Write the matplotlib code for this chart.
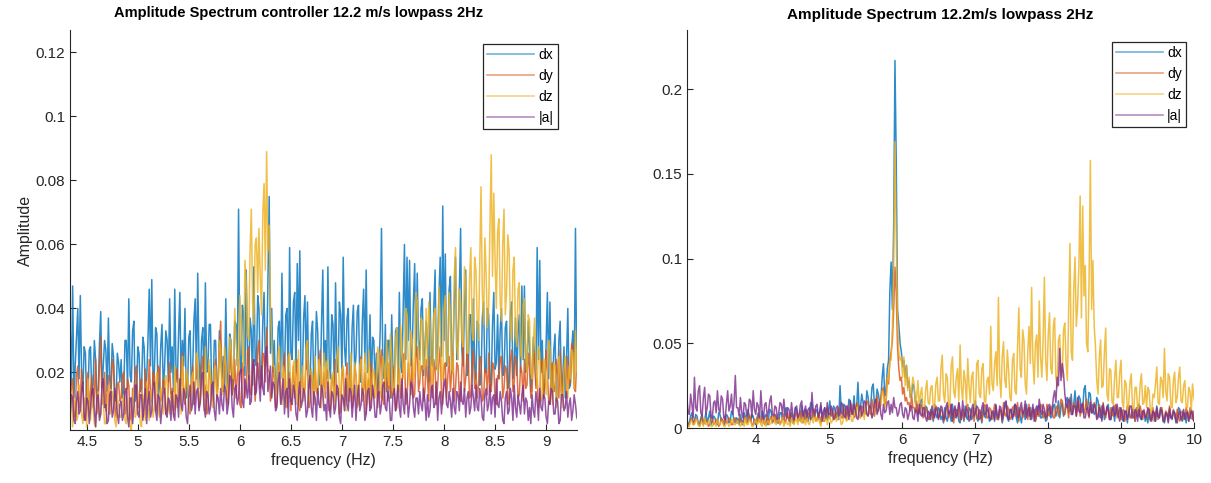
import numpy as np
import matplotlib.pyplot as plt

# amplitudes in thousandths
# left panel: f = 4.335 + 0.0125*k
left_dx = [35, 16, 47, 12, 22, 31, 40, 18, 44, 20, 14, 28, 26, 10, 12, 27, 28, 13, 16, 30,
           24, 12, 13, 29, 39, 15, 22, 30, 27, 14, 37, 18, 15, 29, 25, 12, 11, 26, 23, 17,
           24, 12, 14, 30, 30, 15, 43, 19, 17, 33, 36, 11, 12, 28, 26, 14, 15, 31, 28, 13,
           18, 30, 46, 22, 49, 16, 20, 34, 32, 12, 16, 28, 35, 15, 21, 33, 30, 17, 43, 20,
           28, 14, 46, 20, 17, 32, 45, 16, 30, 22, 40, 12, 14, 31, 33, 15, 20, 36, 43, 18,
           51, 24, 15, 30, 34, 13, 48, 20, 22, 35, 35, 12, 13, 30, 30, 14, 16, 33, 28, 18,
           25, 15, 43, 20, 14, 32, 30, 13, 18, 36, 35, 22, 71, 25, 20, 41, 38, 19, 52, 27,
           18, 37, 33, 16, 53, 24, 22, 44, 40, 18, 18, 36, 45, 22, 24, 48, 75, 26, 40, 20,
           30, 14, 16, 34, 36, 18, 51, 22, 20, 38, 40, 15, 59, 26, 24, 42, 45, 20, 54, 30,
           58, 17, 18, 37, 44, 21, 42, 16, 15, 32, 36, 13, 22, 39, 33, 17, 16, 35, 52, 22,
           30, 18, 53, 24, 18, 38, 35, 16, 48, 22, 20, 42, 38, 19, 56, 28, 22, 37, 40, 14,
           16, 34, 41, 20, 25, 39, 41, 17, 17, 36, 46, 23, 52, 20, 22, 38, 14, 31, 30, 16,
           26, 13, 20, 33, 65, 22, 18, 35, 14, 30, 30, 12, 38, 20, 15, 33, 34, 17, 45, 22,
           20, 40, 60, 24, 56, 30, 55, 22, 26, 42, 54, 25, 51, 30, 24, 40, 43, 19, 28, 36,
           30, 17, 45, 24, 22, 40, 52, 21, 28, 44, 56, 25, 72, 30, 57, 22, 24, 46, 50, 20,
           26, 42, 56, 24, 30, 45, 65, 27, 22, 40, 52, 19, 20, 38, 38, 16, 43, 22, 18, 36,
           35, 16, 18, 37, 42, 20, 20, 40, 38, 17, 16, 35, 45, 21, 23, 38, 18, 33, 40, 19,
           20, 34, 36, 15, 17, 39, 42, 18, 22, 37, 19, 32, 38, 20, 47, 24, 47, 20, 22, 36,
           28, 14, 20, 31, 25, 16, 59, 24, 55, 20, 30, 12, 16, 29, 45, 18, 42, 14, 15, 27,
           32, 11, 14, 30, 36, 13, 18, 28, 12, 24, 40, 15, 16, 27, 33, 18, 65, 20, 22, 28]
left_dy = [10, 15, 18, 6, 7, 19, 22, 9, 12, 21, 16, 5, 6, 17, 20, 8, 14, 19, 9, 13,
           24, 7, 11, 22, 31, 10, 15, 20, 8, 14, 19, 7, 13, 24, 22, 9, 6, 16, 17, 11,
           12, 19, 20, 7, 8, 18, 16, 6, 5, 15, 14, 20, 22, 9, 10, 17, 18, 6, 7, 21,
           15, 10, 24, 13, 11, 20, 19, 8, 9, 22, 21, 11, 13, 18, 17, 7, 8, 16, 23, 12,
           15, 8, 9, 20, 21, 11, 13, 23, 26, 12, 10, 19, 18, 9, 7, 16, 22, 10, 14, 24,
           20, 9, 11, 21, 25, 14, 16, 7, 8, 22, 19, 11, 12, 18, 24, 13, 17, 28, 36, 15,
           14, 25, 22, 11, 10, 21, 27, 13, 16, 24, 12, 19, 24, 10, 9, 23, 20, 12, 15, 26,
           28, 14, 13, 24, 22, 11, 18, 27, 30, 15, 16, 26, 25, 17, 34, 21, 20, 11, 14, 22,
           18, 9, 10, 23, 22, 12, 14, 20, 26, 11, 9, 17, 20, 8, 16, 22, 12, 19, 24, 10,
           8, 18, 19, 12, 15, 24, 23, 9, 11, 20, 17, 10, 21, 14, 13, 23, 27, 12, 15, 20,
           12, 21, 20, 8, 9, 19, 17, 11, 24, 13, 14, 7, 8, 20, 21, 10, 16, 23, 11, 18,
           22, 9, 13, 21, 19, 12, 10, 22, 25, 11, 15, 20, 7, 16, 18, 9, 23, 14, 12, 19,
           20, 9, 14, 23, 27, 12, 10, 21, 18, 11, 23, 14, 12, 22, 16, 8, 9, 20, 21, 12,
           15, 24, 26, 10, 11, 23, 19, 13, 24, 12, 13, 25, 28, 14, 17, 22, 22, 11, 14, 24,
           18, 11, 25, 14, 12, 24, 21, 10, 16, 23, 28, 13, 10, 22, 23, 12, 19, 25, 14, 20,
           26, 11, 15, 23, 22, 12, 11, 21, 30, 14, 18, 26, 24, 12, 13, 22, 27, 15, 20, 12,
           16, 25, 24, 11, 12, 21, 20, 13, 26, 14, 14, 23, 22, 11, 10, 19, 18, 24, 25, 12,
           15, 22, 21, 10, 12, 24, 27, 14, 17, 25, 23, 12, 13, 22, 20, 11, 24, 15, 16, 26,
           22, 12, 14, 25, 26, 15, 18, 9, 12, 23, 24, 13, 16, 27, 20, 11, 10, 22, 23, 14,
           15, 24, 19, 12, 27, 14, 13, 22, 21, 12, 25, 16, 17, 29, 28, 15, 14, 24, 31, 20]
left_dz = [8, 14, 3, 9, 12, 5, 6, 16, 15, 7, 4, 12, 10, 3, 18, 9, 5, 13, 9, 4,
           3, 11, 14, 6, 7, 15, 11, 4, 4, 10, 16, 7, 8, 14, 12, 5, 3, 12, 10, 6,
           6, 11, 13, 5, 4, 12, 9, 3, 2, 10, 15, 6, 7, 14, 11, 4, 3, 13, 8, 5,
           17, 9, 5, 14, 12, 6, 9, 16, 20, 8, 6, 15, 14, 7, 10, 19, 18, 9, 7, 13,
           12, 6, 22, 10, 9, 18, 15, 7, 25, 13, 11, 21, 18, 9, 8, 17, 20, 11, 14, 26,
           24, 10, 10, 19, 16, 8, 28, 14, 12, 24, 19, 10, 9, 21, 22, 11, 15, 30, 27, 13,
           15, 28, 22, 14, 12, 31, 28, 20, 18, 40, 30, 24, 20, 44, 35, 26, 22, 55, 48, 32,
           30, 58, 71, 42, 35, 60, 62, 45, 65, 50, 38, 70, 79, 52, 89, 58, 66, 40, 30, 22,
           22, 12, 14, 26, 28, 11, 10, 22, 20, 9, 16, 25, 26, 13, 12, 23, 24, 10, 18, 27,
           9, 16, 22, 11, 15, 28, 30, 12, 11, 21, 19, 10, 25, 14, 13, 24, 21, 9, 17, 26,
           14, 23, 24, 11, 10, 19, 20, 9, 16, 25, 28, 13, 12, 21, 22, 10, 8, 19, 18, 11,
           26, 14, 13, 23, 20, 9, 10, 22, 24, 12, 15, 26, 19, 10, 27, 15, 11, 20, 21, 12,
           18, 28, 26, 14, 12, 25, 22, 15, 30, 19, 16, 32, 24, 13, 14, 30, 34, 17, 14, 35,
           28, 20, 18, 40, 38, 22, 16, 33, 30, 18, 20, 45, 42, 24, 18, 37, 36, 21, 22, 40,
           22, 42, 35, 20, 16, 38, 40, 24, 20, 47, 32, 18, 18, 40, 44, 25, 22, 45, 38, 21,
           20, 50, 59, 28, 24, 46, 42, 30, 28, 53, 48, 26, 26, 49, 59, 33, 30, 56, 52, 36,
           30, 54, 78, 45, 35, 62, 51, 34, 40, 66, 88, 50, 76, 55, 40, 64, 68, 42, 36, 60,
           71, 38, 45, 63, 58, 35, 30, 52, 56, 32, 28, 46, 48, 26, 24, 41, 43, 25, 20, 38,
           36, 20, 18, 30, 37, 22, 15, 28, 26, 11, 12, 24, 24, 13, 18, 30, 28, 14, 10, 23,
           22, 9, 14, 25, 20, 12, 9, 21, 25, 14, 12, 22, 18, 27, 26, 15, 33, 20, 30, 24]
left_a = [6, 13, 12, 5, 4, 11, 14, 7, 8, 15, 17, 6, 5, 12, 11, 4, 9, 14, 15, 8,
          3, 12, 13, 5, 7, 16, 18, 9, 10, 4, 5, 13, 14, 6, 8, 15, 12, 7, 4, 10,
          11, 5, 7, 14, 15, 6, 3, 12, 12, 4, 9, 16, 16, 7, 6, 13, 13, 5, 10, 15,
          4, 11, 14, 6, 8, 15, 17, 8, 5, 13, 12, 4, 9, 14, 15, 7, 6, 12, 11, 5,
          14, 7, 5, 13, 12, 6, 18, 10, 8, 15, 13, 6, 4, 12, 16, 8, 10, 17, 7, 14,
          15, 8, 11, 19, 20, 9, 6, 14, 13, 7, 9, 16, 17, 8, 5, 13, 12, 7, 15, 10,
          8, 16, 14, 7, 10, 19, 18, 9, 6, 15, 16, 10, 12, 20, 21, 11, 9, 18, 15, 12,
          19, 10, 11, 22, 24, 13, 14, 23, 17, 11, 22, 15, 13, 26, 28, 14, 18, 22, 12, 17,
          16, 8, 9, 17, 20, 10, 12, 18, 7, 14, 15, 6, 18, 11, 10, 16, 14, 7, 5, 13,
          17, 9, 11, 15, 13, 6, 8, 16, 19, 9, 6, 14, 12, 5, 15, 10, 9, 16, 14, 8,
          10, 5, 17, 9, 6, 14, 13, 7, 9, 16, 15, 6, 4, 13, 12, 8, 18, 10, 8, 15,
          14, 6, 11, 16, 5, 12, 16, 8, 10, 15, 13, 5, 7, 14, 15, 8, 9, 16, 12, 6,
          6, 13, 14, 7, 10, 16, 17, 9, 8, 14, 12, 5, 5, 13, 15, 8, 11, 16, 9, 6,
          18, 10, 7, 15, 13, 6, 10, 17, 16, 9, 6, 12, 12, 7, 14, 10, 8, 15, 11, 5,
          13, 6, 8, 15, 16, 9, 10, 17, 5, 12, 14, 7, 12, 16, 18, 10, 9, 14, 11, 6,
          15, 9, 7, 14, 13, 8, 17, 11, 10, 15, 6, 12, 14, 7, 9, 16, 12, 8, 16, 9,
          8, 15, 12, 6, 5, 13, 15, 8, 10, 16, 7, 12, 13, 6, 18, 10, 9, 14, 11, 5,
          4, 12, 14, 7, 8, 15, 12, 5, 16, 9, 6, 13, 10, 7, 13, 16, 7, 12, 11, 5,
          9, 4, 13, 8, 6, 14, 11, 5, 15, 9, 8, 13, 12, 6, 4, 11, 10, 15, 14, 7,
          7, 12, 11, 4, 5, 13, 13, 8, 9, 14, 6, 10, 12, 5, 8, 13, 10, 6, 5, 11]

# right panel: f = 3.05 + 0.0175*k
right_dx = [6, 2, 3, 7, 9, 3, 4, 8, 7, 3, 2, 6, 8, 2, 5, 9, 3, 6, 10, 2,
            4, 7, 6, 3, 2, 9, 8, 4, 5, 2, 3, 8, 7, 3, 4, 10, 9, 4, 3, 6,
            5, 2, 8, 4, 3, 9, 6, 3, 11, 5, 4, 8, 7, 3, 2, 6, 9, 4, 5, 10,
            3, 7, 8, 2, 6, 11, 10, 4, 4, 8, 7, 3, 3, 9, 9, 5, 5, 11, 12, 6,
            6, 3, 9, 5, 4, 12, 11, 6, 7, 4, 13, 7, 5, 11, 10, 4, 8, 15, 14, 6,
            6, 10, 11, 5, 9, 13, 7, 4, 12, 6, 5, 10, 16, 7, 8, 13, 11, 6, 10, 5,
            25, 9, 8, 14, 13, 6, 9, 17, 16, 8, 11, 19, 7, 12, 27, 10, 12, 20, 15, 9,
            10, 22, 18, 11, 13, 24, 26, 12, 14, 23, 20, 15, 17, 30, 38, 19, 22, 35, 40, 81,
            98, 70, 120, 217, 158, 70, 61, 50, 45, 36, 40, 30, 37, 24, 28, 18, 20, 26, 24, 15,
            14, 9, 10, 16, 17, 7, 8, 13, 12, 6, 5, 11, 9, 4, 14, 8, 6, 12, 11, 5,
            7, 3, 12, 6, 4, 10, 9, 4, 14, 7, 6, 11, 10, 4, 3, 9, 8, 4, 13, 6,
            5, 12, 11, 5, 7, 13, 16, 6, 4, 10, 9, 3, 12, 7, 6, 11, 10, 4, 5, 9,
            8, 4, 13, 6, 5, 11, 10, 3, 7, 12, 15, 6, 4, 9, 11, 5, 9, 14, 6, 3,
            12, 7, 3, 9, 10, 5, 14, 8, 7, 12, 5, 9, 11, 4, 8, 13, 13, 6, 6, 10,
            9, 4, 5, 11, 12, 6, 7, 13, 14, 7, 10, 16, 6, 12, 15, 7, 9, 17, 18, 9,
            11, 20, 8, 14, 22, 10, 13, 19, 17, 9, 10, 23, 25, 11, 12, 21, 20, 9, 14, 8,
            9, 18, 16, 7, 6, 13, 12, 5, 8, 11, 14, 6, 5, 12, 10, 4, 13, 8, 7, 12,
            11, 5, 4, 10, 9, 3, 12, 7, 6, 11, 10, 4, 8, 12, 14, 6, 5, 10, 9, 4,
            7, 3, 11, 5, 4, 10, 9, 4, 13, 7, 6, 12, 10, 4, 3, 9, 8, 5, 12, 6,
            5, 10, 9, 3, 7, 12, 11, 5, 4, 9, 8, 3, 10, 6, 6, 11, 9, 4, 5, 8]
right_dy = [4, 1, 2, 5, 6, 2, 3, 6, 5, 2, 1, 4, 7, 3, 3, 5, 4, 1, 2, 6,
            6, 2, 3, 5, 5, 1, 2, 6, 4, 2, 7, 3, 3, 6, 5, 2, 2, 5, 6, 3,
            3, 6, 5, 2, 2, 6, 7, 3, 4, 8, 6, 2, 2, 5, 5, 3, 8, 4, 3, 7,
            6, 2, 4, 7, 2, 5, 7, 3, 5, 8, 3, 6, 6, 2, 4, 7, 8, 3, 5, 9,
            4, 8, 7, 3, 3, 8, 9, 4, 5, 10, 6, 3, 10, 5, 4, 9, 8, 5, 6, 11,
            11, 4, 5, 9, 7, 3, 9, 6, 4, 10, 12, 6, 6, 11, 8, 5, 10, 6, 7, 12,
            11, 6, 6, 12, 9, 5, 13, 8, 7, 14, 10, 6, 8, 15, 14, 7, 6, 13, 12, 8,
            9, 16, 15, 9, 8, 17, 11, 7, 13, 19, 10, 16, 18, 22, 24, 14, 15, 30, 26, 40,
            45, 52, 70, 95, 80, 48, 35, 28, 30, 20, 24, 16, 18, 14, 15, 10, 20, 12, 12, 9,
            16, 8, 9, 14, 13, 6, 7, 12, 11, 5, 6, 10, 10, 5, 8, 13, 12, 6, 7, 11,
            10, 4, 5, 11, 13, 6, 8, 14, 6, 3, 12, 7, 9, 15, 4, 9, 11, 5, 7, 13,
            14, 7, 6, 11, 9, 4, 12, 8, 5, 11, 10, 4, 8, 14, 13, 6, 6, 12, 11, 5,
            8, 14, 12, 5, 5, 11, 10, 4, 15, 8, 7, 13, 11, 5, 6, 12, 13, 7, 9, 15,
            4, 10, 12, 6, 8, 13, 10, 5, 14, 8, 6, 12, 9, 4, 11, 7, 7, 14, 13, 6,
            9, 5, 14, 8, 7, 13, 11, 6, 6, 12, 13, 7, 10, 17, 16, 8, 8, 14, 12, 6,
            18, 10, 9, 15, 14, 7, 11, 16, 7, 12, 15, 8, 12, 17, 9, 6, 16, 9, 10, 15,
            13, 6, 8, 14, 11, 5, 15, 9, 6, 12, 10, 5, 12, 8, 7, 13, 14, 6, 9, 12,
            5, 10, 11, 4, 8, 13, 13, 6, 6, 11, 10, 4, 12, 7, 7, 13, 9, 5, 11, 7,
            6, 11, 10, 4, 8, 12, 4, 9, 11, 5, 7, 12, 12, 6, 5, 10, 9, 4, 13, 7,
            6, 11, 8, 4, 11, 7, 4, 9, 10, 5, 7, 12, 9, 4, 12, 6, 5, 10, 8, 4]
right_dz = [3, 1, 1, 4, 4, 2, 2, 5, 5, 2, 1, 3, 3, 1, 6, 2, 2, 4, 4, 1,
            1, 3, 3, 1, 5, 2, 2, 4, 4, 1, 1, 3, 3, 1, 2, 5, 5, 2, 2, 4,
            4, 2, 1, 3, 3, 1, 6, 2, 2, 5, 4, 1, 1, 3, 5, 2, 3, 6, 2, 1,
            6, 3, 1, 4, 4, 2, 3, 6, 7, 3, 2, 5, 5, 2, 3, 6, 1, 3, 4, 2,
            3, 1, 6, 3, 2, 5, 5, 2, 8, 4, 3, 6, 4, 2, 7, 3, 2, 5, 6, 3,
            9, 4, 4, 7, 3, 1, 8, 4, 5, 9, 2, 5, 7, 3, 4, 8, 10, 4, 5, 9,
            6, 2, 3, 7, 8, 4, 5, 9, 10, 4, 4, 11, 7, 12, 12, 6, 6, 10, 9, 5,
            14, 8, 7, 12, 11, 6, 8, 14, 15, 9, 10, 16, 13, 22, 20, 12, 14, 30, 28, 40,
            40, 60, 95, 169, 111, 65, 45, 40, 42, 30, 42, 25, 37, 22, 30, 18, 22, 30, 26, 14,
            18, 28, 12, 20, 24, 10, 10, 22, 28, 15, 14, 24, 25, 12, 12, 26, 30, 16, 16, 35,
            43, 20, 15, 32, 30, 12, 14, 36, 42, 22, 18, 30, 35, 16, 49, 24, 16, 34, 28, 14,
            41, 25, 15, 30, 33, 13, 12, 38, 40, 20, 18, 35, 38, 16, 15, 28, 30, 20, 60, 26,
            22, 38, 45, 25, 77, 30, 18, 42, 51, 28, 24, 46, 34, 18, 16, 40, 44, 22, 20, 48,
            71, 35, 30, 58, 52, 26, 20, 45, 60, 38, 83, 40, 26, 50, 55, 30, 75, 42, 30, 52,
            89, 40, 28, 55, 68, 35, 32, 60, 65, 30, 24, 52, 55, 32, 30, 58, 62, 38, 28, 70,
            109, 45, 40, 82, 101, 60, 72, 95, 137, 65, 131, 78, 96, 50, 45, 88, 158, 70, 99, 60,
            48, 28, 20, 42, 52, 24, 25, 45, 59, 20, 16, 35, 34, 15, 14, 30, 40, 18, 18, 33,
            40, 15, 12, 28, 26, 10, 14, 27, 32, 12, 10, 24, 24, 11, 13, 26, 32, 14, 15, 25,
            12, 24, 22, 10, 9, 20, 18, 26, 36, 15, 14, 30, 28, 18, 47, 22, 16, 32, 30, 14,
            12, 28, 33, 15, 18, 30, 36, 16, 15, 25, 28, 12, 12, 24, 22, 10, 26, 18, 14, 22]
right_a = [18, 10, 8, 20, 14, 6, 30, 12, 10, 22, 25, 9, 7, 18, 24, 8, 12, 20, 19, 7,
           6, 15, 16, 9, 22, 11, 9, 19, 17, 6, 5, 14, 22, 10, 13, 20, 8, 15, 31, 12,
           12, 7, 18, 9, 6, 15, 14, 7, 9, 17, 16, 6, 22, 11, 8, 15, 13, 6, 22, 10,
           5, 14, 15, 7, 10, 16, 19, 8, 7, 13, 12, 5, 9, 15, 14, 8, 17, 9, 6, 12,
           11, 6, 15, 8, 5, 12, 13, 6, 8, 14, 16, 7, 10, 13, 6, 11, 12, 5, 21, 10,
           7, 13, 14, 6, 9, 15, 4, 10, 12, 6, 15, 8, 8, 13, 11, 5, 6, 12, 13, 7,
           9, 15, 14, 7, 6, 13, 12, 5, 16, 9, 8, 14, 11, 6, 5, 12, 13, 7, 10, 16,
           15, 8, 7, 13, 12, 6, 9, 15, 17, 8, 11, 16, 8, 5, 14, 9, 10, 15, 16, 8,
           14, 9, 18, 12, 12, 7, 9, 14, 15, 8, 6, 12, 11, 5, 8, 13, 13, 6, 5, 11,
           10, 4, 14, 8, 7, 12, 12, 6, 4, 10, 9, 5, 13, 8, 6, 12, 11, 5, 8, 13,
           12, 5, 6, 13, 15, 8, 9, 14, 4, 10, 13, 6, 8, 15, 11, 5, 16, 9, 7, 12,
           10, 4, 5, 11, 14, 7, 9, 13, 12, 5, 6, 12, 15, 8, 8, 14, 11, 6, 5, 10,
           10, 5, 14, 8, 6, 13, 12, 5, 9, 15, 16, 7, 5, 11, 11, 6, 8, 14, 13, 6,
           7, 12, 15, 8, 10, 16, 6, 10, 12, 5, 9, 14, 4, 11, 13, 8, 17, 10, 8, 14,
           11, 6, 7, 13, 14, 8, 10, 18, 22, 15, 30, 25, 47, 28, 38, 32, 20, 14, 12, 17,
           16, 8, 8, 13, 13, 7, 18, 10, 9, 14, 14, 6, 6, 11, 12, 7, 15, 9, 9, 14,
           12, 5, 6, 12, 10, 4, 14, 8, 8, 13, 11, 5, 5, 10, 13, 7, 9, 14, 7, 4,
           12, 8, 4, 10, 10, 5, 8, 13, 13, 6, 6, 11, 9, 4, 11, 7, 5, 10, 10, 6,
           7, 12, 11, 5, 5, 10, 9, 4, 12, 7, 6, 11, 10, 4, 4, 9, 8, 3, 11, 6,
           6, 10, 9, 4, 3, 8, 10, 5, 7, 11, 5, 9, 9, 4, 6, 10, 8, 4, 4, 7]

labels = ['dx', 'dy', 'dz', '|a|']
colors = ['#0072BD', '#D95319', '#EDB120', '#7E2F8E']

plt.rcParams['font.family'] = ['Liberation Sans', 'DejaVu Sans']
grey = '#262626'

fig = plt.figure(figsize=(12.11, 4.83), dpi=100)
ax1 = fig.add_axes([70 / 1211, 53 / 483, 507 / 1211, 400 / 483])
ax2 = fig.add_axes([687 / 1211, 55 / 483, 507 / 1211, 398 / 483])

f_left = 4.335 + 0.0125 * np.arange(len(left_dx))
f_right = 3.05 + 0.0175 * np.arange(len(right_dx))

for ax, f, series in [(ax1, f_left, [left_dx, left_dy, left_dz, left_a]),
                      (ax2, f_right, [right_dx, right_dy, right_dz, right_a])]:
    for vals, c, lab in zip(series, colors, labels):
        ax.plot(f, np.array(vals) / 1000.0, color=c, lw=1.1, alpha=0.82, label=lab)
    for s in ['top', 'right']:
        ax.spines[s].set_visible(False)
    for s in ['left', 'bottom']:
        ax.spines[s].set_color(grey)
        ax.spines[s].set_linewidth(0.8)
    ax.tick_params(direction='in', length=4, width=0.8, colors=grey, labelsize=11)
    ax.set_xlabel('frequency (Hz)', fontsize=11.5, color=grey, labelpad=3)

ax1.set_xlim(4.334, 9.30)
ax1.set_ylim(0.002, 0.127)
ax1.set_xticks([4.5, 5, 5.5, 6, 6.5, 7, 7.5, 8, 8.5, 9])
ax1.set_xticklabels(['4.5', '5', '5.5', '6', '6.5', '7', '7.5', '8', '8.5', '9'])
ax1.set_yticks([0.02, 0.04, 0.06, 0.08, 0.1, 0.12])
ax1.set_yticklabels(['0.02', '0.04', '0.06', '0.08', '0.1', '0.12'])
ax1.set_ylabel('Amplitude', fontsize=11.5, color=grey, labelpad=2)
ax1.set_title('Amplitude Spectrum controller 12.2 m/s lowpass 2Hz',
              fontsize=10.5, fontweight='bold', pad=9, x=0.45)

ax2.set_xlim(3.053, 9.985)
ax2.set_ylim(0, 0.235)
ax2.set_xticks([4, 5, 6, 7, 8, 9, 10])
ax2.set_xticklabels(['4', '5', '6', '7', '8', '9', '10'])
ax2.set_yticks([0, 0.05, 0.1, 0.15, 0.2])
ax2.set_yticklabels(['0', '0.05', '0.1', '0.15', '0.2'])
ax2.set_title('Amplitude Spectrum 12.2m/s lowpass 2Hz',
              fontsize=11, fontweight='bold', pad=8)

for ax, anchor in [(ax1, (0.962, 0.965)), (ax2, (0.985, 0.97))]:
    leg = ax.legend(loc='upper right', bbox_to_anchor=anchor, fancybox=False,
                    edgecolor=grey, framealpha=1, fontsize=10, handlelength=3.4,
                    handletextpad=0.3, borderpad=0.3, labelspacing=0.5,
                    borderaxespad=0)
    leg.get_frame().set_linewidth(0.9)
    for line in leg.get_lines():
        line.set_alpha(0.55)
        line.set_linewidth(1.2)

plt.savefig('out.png', dpi=100)
